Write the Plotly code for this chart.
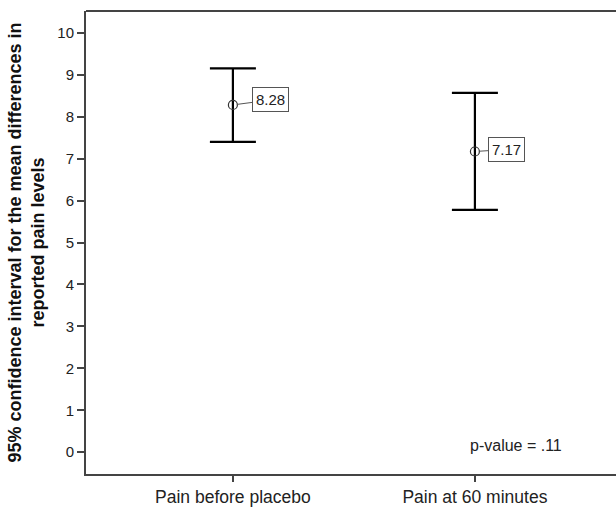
import plotly.graph_objects as go

categories = ["Pain before placebo", "Pain at 60 minutes"]
means = [8.28, 7.17]
upper = [9.15, 8.57]
lower = [7.40, 5.78]
mean_labels = ["8.28", "7.17"]
y_ticks = [0, 1, 2, 3, 4, 5, 6, 7, 8, 9, 10]

xpos = [0, 1]
err_plus = [u - m for u, m in zip(upper, means)]
err_minus = [m - l for m, l in zip(means, lower)]

FONT = "Liberation Sans, Arial"

fig = go.Figure()
fig.add_trace(go.Scatter(
    x=xpos, y=means, mode="markers",
    marker=dict(symbol="circle-open", size=9, color="#333333", line=dict(width=1.2)),
    error_y=dict(type="data", symmetric=False, array=err_plus, arrayminus=err_minus,
                 color="black", thickness=2.2, width=23),
    showlegend=False, hoverinfo="skip",
))

offsets = [(38, -5), (32, -2)]
for x, m, lab, (ax, ay) in zip(xpos, means, mean_labels, offsets):
    fig.add_annotation(x=x, y=m, text=lab, showarrow=True, arrowhead=0, arrowwidth=1,
                       arrowcolor="#555555", ax=ax, ay=ay, standoff=4,
                       bordercolor="#555555", borderwidth=1, borderpad=3, bgcolor="white",
                       font=dict(family=FONT, size=15, color="#222222"))

fig.add_annotation(x=1.17, y=0.17, xref="x", yref="y", text="p-value = .11", showarrow=False,
                   font=dict(family=FONT, size=16, color="#222222"))

fig.update_layout(
    width=616, height=508,
    margin=dict(l=86, r=0, t=11, b=34),
    plot_bgcolor="white", paper_bgcolor="white",
    font=dict(family=FONT, color="#222222"),
)
fig.update_xaxes(
    range=[-0.607, 1.583], tickvals=xpos, ticktext=categories,
    showgrid=False, zeroline=False, showline=True, linecolor="#444444", linewidth=2,
    ticks="outside", ticklen=6, tickcolor="#444444", tickwidth=1.5,
    tickfont=dict(size=17.5), mirror=False,
)
fig.update_yaxes(
    range=[-0.52, 10.52], tickvals=y_ticks,
    showgrid=False, zeroline=False, showline=True, linecolor="#444444", linewidth=2,
    ticks="outside", ticklen=7, tickcolor="#444444", tickwidth=1.5,
    tickfont=dict(size=15),
    title=dict(text="<b>95% confidence interval for the mean differences in<br>reported pain levels</b>",
               font=dict(size=18, color="#111111"), standoff=8),
)
fig.add_shape(type="line", xref="paper", yref="paper", x0=0, x1=1, y0=1, y1=1,
              line=dict(color="#444444", width=2))

fig.write_html("out.html", config={"displayModeBar": False},
               post_script="document.body.style.margin='0';")
